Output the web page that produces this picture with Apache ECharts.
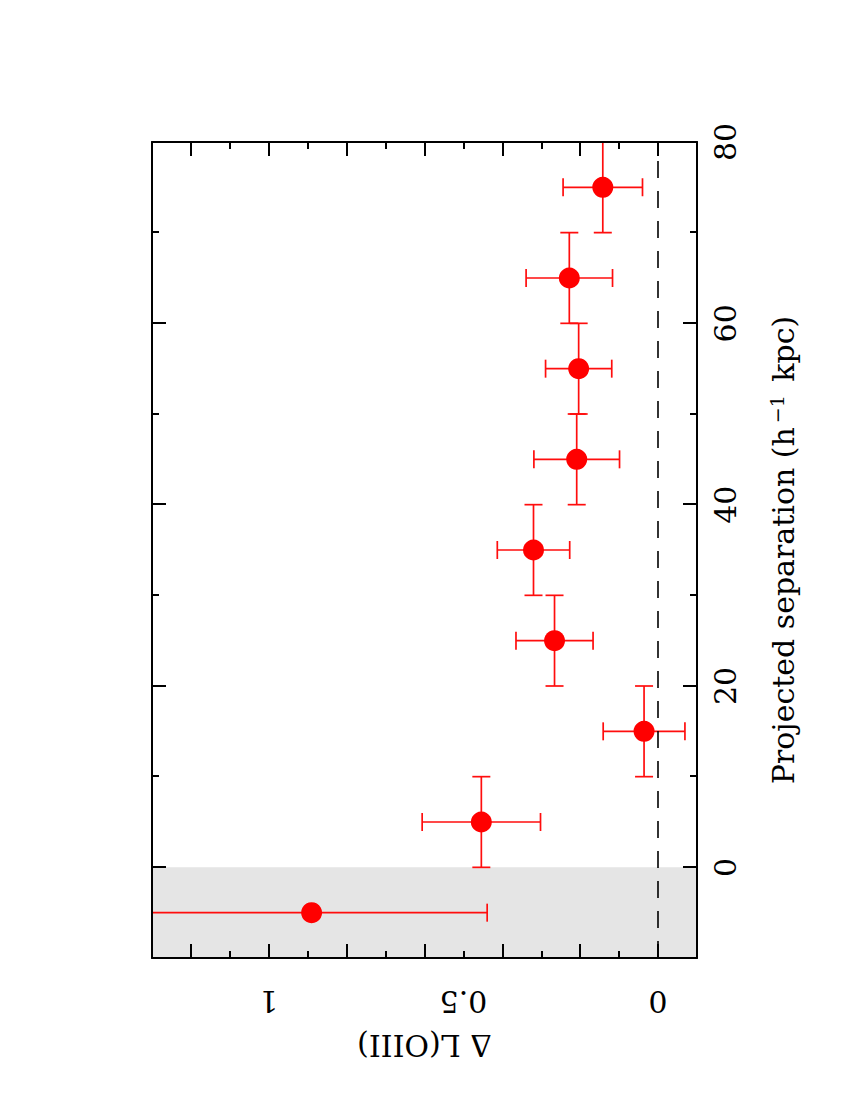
<!DOCTYPE html>
<html>
<head>
<meta charset="utf-8">
<script src="https://cdn.jsdelivr.net/npm/echarts@6/dist/echarts.min.js"></script>
<style>
html, body { margin:0; padding:0; width:850px; height:1100px; overflow:hidden; background:#fff; }
/* the plot is drawn landscape, then the page turns it a quarter turn */
#chart { position:absolute; left:0; top:0; width:1100px; height:850px;
         transform-origin:0 0; transform:translate(0,1100px) rotate(-90deg); }
</style>
</head>
<body>
<div id="chart"></div>
<script>
// projected separation bins (h^-1 kpc) and errors
var sepValues = [-5, 5, 15, 25, 35, 45, 55, 65, 75];
var sepErr = [0, 5, 5, 5, 5, 5, 5, 5, 5];
// delta L(OIII)
var dL = [0.890, 0.454, 0.036, 0.266, 0.320, 0.209, 0.204, 0.228, 0.142];
var dLErr = [0.451, 0.152, 0.105, 0.099, 0.093, 0.110, 0.085, 0.111, 0.102];

var sepTicksMajor = [0, 20, 40, 60, 80];
var sepTicksMinor = [10, 30, 50, 70];
var sepLabels = [0, 20, 40, 60, 80];
var dLTicksMajor = [0, 0.2, 0.4, 0.6, 0.8, 1.0, 1.2];
var dLTicksMinor = [0.1, 0.3, 0.5, 0.7, 0.9, 1.1];
var dLLabels = [0, 0.5, 1];
var shadedRange = [-10, 0];

var FONT = '"DejaVu Serif", serif';
var pts = [];
for (var i = 0; i < sepValues.length; i++) {
    pts.push([sepValues[i], dL[i], sepErr[i], dLErr[i]]);
}

function xAx(pos, ticks, len, labels, line) {
    return {
        type: 'value', position: pos, min: -10, max: 80, z: 10,
        axisLine: { show: line, onZero: false, lineStyle: { color: '#000', width: 2 } },
        axisTick: { show: true, inside: true, length: len, customValues: ticks,
                    lineStyle: { color: '#000', width: 2 } },
        axisLabel: labels ? { show: true, customValues: labels, margin: 13,
                    color: '#000', fontFamily: FONT, fontSize: 30 } : { show: false },
        splitLine: { show: false }
    };
}
function yAx(pos, ticks, len, labels, line) {
    return {
        type: 'value', position: pos, min: -0.1, max: 1.3, z: 10,
        axisLine: { show: line, onZero: false, lineStyle: { color: '#000', width: 2 } },
        axisTick: { show: true, inside: true, length: len, customValues: ticks,
                    lineStyle: { color: '#000', width: 2 } },
        axisLabel: labels ? { show: true, customValues: labels, rotate: 90, margin: 28,
                    color: '#000', fontFamily: FONT, fontSize: 30 } : { show: false },
        splitLine: { show: false }
    };
}

var xAxes = [
    xAx('bottom', sepTicksMajor, 14, sepLabels, true),
    xAx('bottom', sepTicksMinor, 7, null, false),
    xAx('top', sepTicksMajor, 14, null, true),
    xAx('top', sepTicksMinor, 7, null, false)
];
xAxes[0].name = 'Projected separation (h{sup|\u22121} kpc)';
xAxes[0].nameLocation = 'middle';
xAxes[0].nameGap = 70;
xAxes[0].nameTextStyle = { color: '#000', fontFamily: FONT, fontSize: 30,
    rich: { sup: { fontFamily: FONT, fontSize: 19, verticalAlign: 'top', padding: [0, 4, 14, 4] } } };

var yAxes = [
    yAx('left', dLTicksMajor, 14, dLLabels, true),
    yAx('left', dLTicksMinor, 7, null, false),
    yAx('right', dLTicksMajor, 14, null, true),
    yAx('right', dLTicksMinor, 7, null, false)
];
yAxes[0].name = '\u0394 L(OIII)';
yAxes[0].nameLocation = 'middle';
yAxes[0].nameRotate = 90;
yAxes[0].nameGap = 72;
yAxes[0].nameTextStyle = { color: '#000', fontFamily: FONT, fontSize: 30 };

var myChart = echarts.init(document.getElementById('chart'), null, { renderer: 'svg' });
var option = {
    backgroundColor: '#fff',
    animation: false,
    grid: { left: 142, right: 142, top: 152, bottom: 153 },
    xAxis: xAxes,
    yAxis: yAxes,
    series: [
        {
            type: 'line', data: [], silent: true,
            markArea: {
                silent: true,
                itemStyle: { color: '#e5e5e5' },
                data: [[{ xAxis: shadedRange[0] }, { xAxis: shadedRange[1] }]]
            },
            markLine: {
                silent: true, symbol: 'none', label: { show: false },
                lineStyle: { color: '#000', width: 1.6, type: [17, 13] },
                data: [{ yAxis: 0 }]
            }
        },
        {
            type: 'custom', clip: true, z: 3,
            data: pts,
            renderItem: function (params, api) {
                var x = api.value(0), y = api.value(1), ex = api.value(2), ey = api.value(3);
                var c = 9;
                var style = { stroke: '#ff0d0d', lineWidth: 1.7 };
                var kids = [];
                var lo = api.coord([x, y - ey]), hi = api.coord([x, y + ey]);
                kids.push({ type: 'line', shape: { x1: lo[0], y1: lo[1], x2: hi[0], y2: hi[1] }, style: style });
                kids.push({ type: 'line', shape: { x1: lo[0] - c, y1: lo[1], x2: lo[0] + c, y2: lo[1] }, style: style });
                kids.push({ type: 'line', shape: { x1: hi[0] - c, y1: hi[1], x2: hi[0] + c, y2: hi[1] }, style: style });
                if (ex > 0) {
                    var l = api.coord([x - ex, y]), r = api.coord([x + ex, y]);
                    kids.push({ type: 'line', shape: { x1: l[0], y1: l[1], x2: r[0], y2: r[1] }, style: style });
                    kids.push({ type: 'line', shape: { x1: l[0], y1: l[1] - c, x2: l[0], y2: l[1] + c }, style: style });
                    kids.push({ type: 'line', shape: { x1: r[0], y1: r[1] - c, x2: r[0], y2: r[1] + c }, style: style });
                }
                return { type: 'group', children: kids };
            }
        },
        {
            type: 'scatter', z: 4,
            symbol: 'circle', symbolSize: 21,
            itemStyle: { color: '#ff0000', opacity: 1 },
            data: pts.map(function (p) { return [p[0], p[1]]; })
        }
    ]
};
myChart.setOption(option);
</script>
</body>
</html>
